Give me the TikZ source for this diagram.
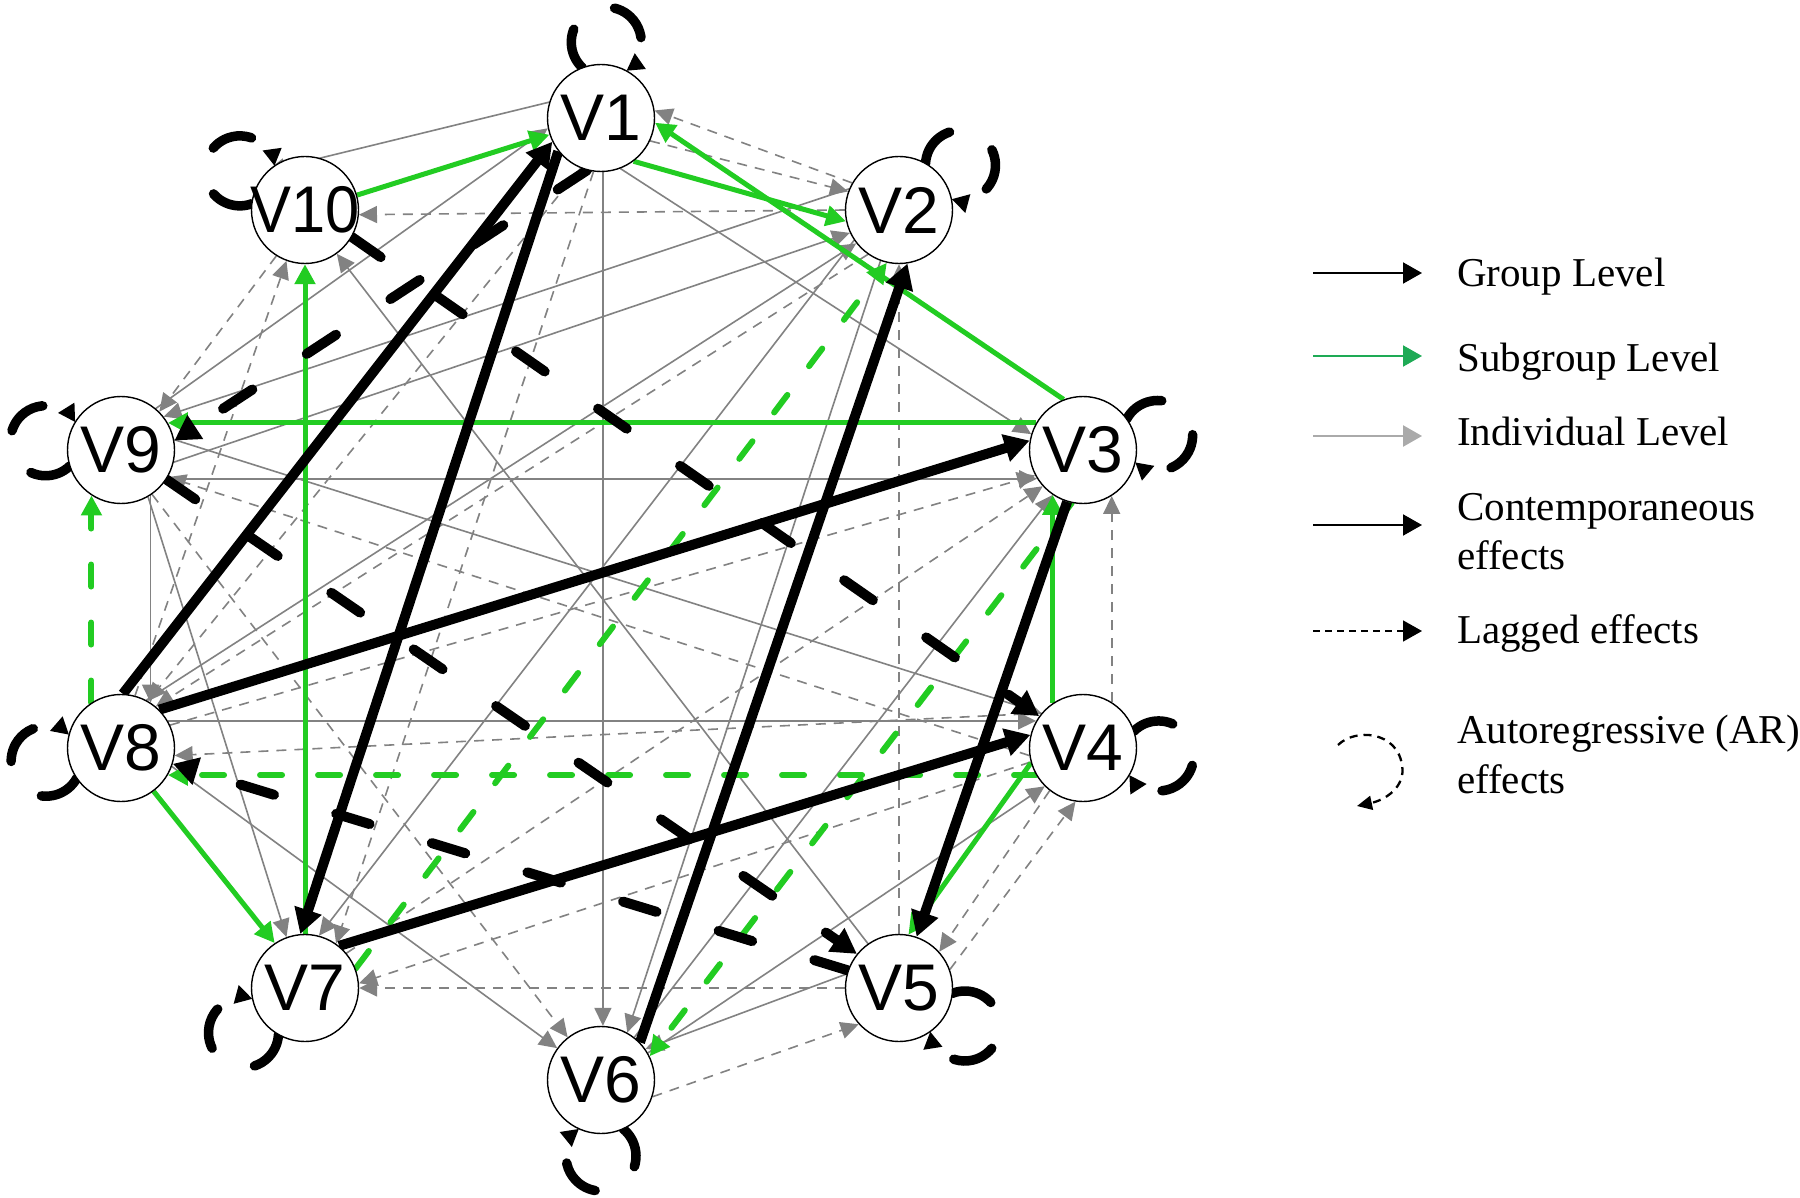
\documentclass[tikz,border=0pt]{standalone}
\usepackage{fontspec}
\setmainfont{Liberation Serif}
\newfontfamily\nodefont{Liberation Sans}
\usetikzlibrary{arrows.meta,calc}
\pgfdeclarelayer{bg}
\pgfsetlayers{bg,main}
\definecolor{grn}{RGB}{34,204,34}
\definecolor{lgrn}{RGB}{30,170,85}
\definecolor{gry}{RGB}{130,130,130}
\definecolor{lgry}{RGB}{170,170,170}
\tikzset{
  vnode/.style={circle,draw=black,line width=1.4pt,fill=white,minimum size=107pt,inner sep=0pt,font=\nodefont\fontsize{66}{66}\selectfont},
  grp/.style={line width=10pt,black,-{Triangle[length=25pt,width=27pt]}},
  grpdash/.style={grp,line cap=round,dash pattern=on 35pt off 65pt},
  sub/.style={line width=5pt,grn,-{Triangle[length=20pt,width=20pt]}},
  subdash/.style={sub,line width=6pt,line cap=round,dash pattern=on 22pt off 36pt},
  ind/.style={line width=1.6pt,gry,-{Triangle[length=18pt,width=17pt]}},
  inddash/.style={ind,dash pattern=on 10pt off 8pt},
  arloop/.style={line width=9.5pt,black,line cap=round,dash pattern=on 42pt off 50pt on 42pt off 60pt,-{Triangle[length=17pt,width=18pt]}},
  legarrow/.style={line width=2pt,-{Triangle[length=19pt,width=21pt]}},
  legtext/.style={anchor=base west,inner sep=0pt,font=\fontsize{41}{41}\selectfont},
}
\begin{document}
\begin{tikzpicture}[x=1pt,y=1pt]
\useasboundingbox (0,0) rectangle (1800,-1198);
% nodes
\node[vnode] (V1) at (601,-118) {\makebox[0pt]{V1}};
\node[vnode] (V2) at (899,-210) {\makebox[0pt]{V2}};
\node[vnode] (V3) at (1083,-450) {\makebox[0pt]{V3}};
\node[vnode] (V4) at (1083,-748) {\makebox[0pt]{V4}};
\node[vnode] (V5) at (899,-988) {\makebox[0pt]{V5}};
\node[vnode] (V6) at (601,-1080) {\makebox[0pt]{V6}};
\node[vnode] (V7) at (305,-988) {\makebox[0pt]{V7}};
\node[vnode] (V8) at (121,-748) {\makebox[0pt]{V8}};
\node[vnode] (V9) at (121,-450) {\makebox[0pt]{V9}};
\node[vnode] (V10) at (305,-210) {\makebox[0pt]{\scalebox{0.93}[1]{V10}}};
\begin{pgfonlayer}{bg}
\fill[white] (0,0) rectangle (1800,-1198);
% individual level, solid
\draw[ind] (V1.163) -- (V10.134);
\draw[ind] (V1.272) -- (V6.88);
\draw[ind] (V1.291) -- (V3.163);
\draw[ind] (V9.-32) -- (V3.212);
\draw[ind] (V8.30) -- (V4.150);
\draw[ind] (V9.11) -- (V4.140);
\draw[ind] (V9.-57) -- (V8.57);
\draw[ind] (V2.214) -- (V7.75);
\draw[ind] (V9.300) -- (V7.110);
\draw[ind] (V8.-20) -- (V6.144);
\draw[ind] (V2.250) -- (V6.61);
\draw[ind] (V6.30) -- (V4.225);
\draw[ind] (V6.52) -- (V3.236);
\draw[ind] (V5.165) -- (V6.35);
\draw[ind] (V5.125) -- (V10.306);
\draw[ind] (V2.157) -- (V9.38);
\draw[ind] (V9.-13) -- (V2.205);
\draw[ind] (V9.50) -- (V1.191);
\draw[ind] (V8.62) -- (V2.218);
% individual level, dashed
\draw[inddash] (V2.180) -- (V10.-5);
\draw[inddash] (V2.150) -- (V1.8);
\draw[inddash] (V1.335) -- (V2.160);
\draw[inddash] (V5.90) -- (V2.270);
\draw[inddash] (V4.58) -- (V3.302);
\draw[inddash] (V5.180) -- (V7.0);
\draw[inddash] (V1.262) -- (V7.55);
\draw[inddash] (V1.248) -- (V8.60);
\draw[inddash] (V9.305) -- (V6.128);
\draw[inddash] (V6.342) -- (V5.222);
\draw[inddash] (V5.20) -- (V4.262);
\draw[inddash] (V4.232) -- (V5.42);
\draw[inddash] (V8.75) -- (V10.250);
\draw[inddash] (V10.238) -- (V9.45);
\draw[inddash] (V4.195) -- (V7.5);
\draw[inddash] (V4.188) -- (V9.-30);
\draw[inddash] (V4.140) -- (V8.-8);
\draw[inddash] (V8.25) -- (V3.208);
\draw[inddash] (V7.40) -- (V3.222);
\draw[inddash] (V2.235) -- (V8.50);
% subgroup level
\draw[sub] (V10.16) -- (V1.198);
\draw[sub] (V1.307) -- (V2.192);
\draw[sub] (V3.111) -- (V1.355);
\draw[sub] (V3.150) -- (V9.30);
\draw[sub] (V7.90) -- (V10.270);
\draw[sub] (V8.307) -- (V7.124);
\draw[sub] (V4.196) -- (V5.80);
\draw[sub] (V4.124) -- (V3.236);
\draw[subdash] (V8.123) -- (V9.237);
\draw[subdash] (V4.210) -- (V8.330);
\draw[subdash] (V7.21) -- (V2.257);
\draw[subdash] (V3.258) -- (V6.26);
% group level
\draw[grp] (V8.88) -- (V1.206);
\draw[grp] (V1.218) -- (V7.95);
\draw[grp] (V8.45) -- (V3.170);
\draw[grp] (V6.44) -- (V2.279);
\draw[grp] (V7.51) -- (V4.166);
\draw[grp] (V3.253) -- (V5.71);
\draw[grpdash] (V1.255) -- (V9.10);
\draw[grpdash] (V10.330) -- (V4.144);
\draw[grpdash] (V9.327) -- (V5.141);
\draw[grpdash] (V5.161) -- (V8.343);
% autoregressive loops
\foreach \n/\p in {V1/86,V2/36,V3/11,V4/-6,V5/-30,V6/-90,V7/216,V8/190,V9/173,V10/149}{
  \pgfmathsetmacro\sa{\p+141}
  \pgfmathsetmacro\ea{\p-141}
  \draw[arloop] ($(\n)+(\p:76pt)+(\sa:35pt)$) arc[start angle=\sa, end angle=\ea, radius=35pt];
}
\end{pgfonlayer}
% legend
\coordinate (la1) at (1313,-273); \coordinate (lb1) at (1422,-273);
\coordinate (la2) at (1313,-356); \coordinate (lb2) at (1422,-356);
\coordinate (la3) at (1313,-436); \coordinate (lb3) at (1422,-436);
\coordinate (la4) at (1313,-525); \coordinate (lb4) at (1422,-525);
\coordinate (la5) at (1313,-631); \coordinate (lb5) at (1422,-631);
\coordinate (la6) at (1338,-745); \coordinate (lb6) at (1357,-806);
\draw[legarrow,black] (la1) -- (lb1);
\draw[legarrow,lgrn] (la2) -- (lb2);
\draw[legarrow,lgry,line width=2.5pt] (la3) -- (lb3);
\draw[legarrow,black] (la4) -- (lb4);
\draw[legarrow,black,line width=1.6pt,dash pattern=on 7pt off 5pt] (la5) -- (lb5);
\draw[black,line width=2.3pt,dash pattern=on 8pt off 6pt,-{Triangle[length=15pt,width=14pt]}] (la6) .. controls (1355,-728) and (1397,-731) .. (1402,-765) .. controls (1406,-787) and (1385,-800) .. (lb6);
\node[legtext] (t1) at (1457,-287) {Group Level};
\node[legtext] (t2) at (1457,-371) {Subgroup Level};
\node[legtext] (t3) at (1457,-445) {Individual Level};
\node[legtext] (t4) at (1457,-520) {Contemporaneous};
\node[legtext] (t4b) at (1457,-569) {effects};
\node[legtext] (t5) at (1457,-643) {Lagged effects};
\node[legtext] (t6) at (1457,-743) {Autoregressive (AR)};
\node[legtext] (t6b) at (1457,-793) {effects};
\end{tikzpicture}
\end{document}
